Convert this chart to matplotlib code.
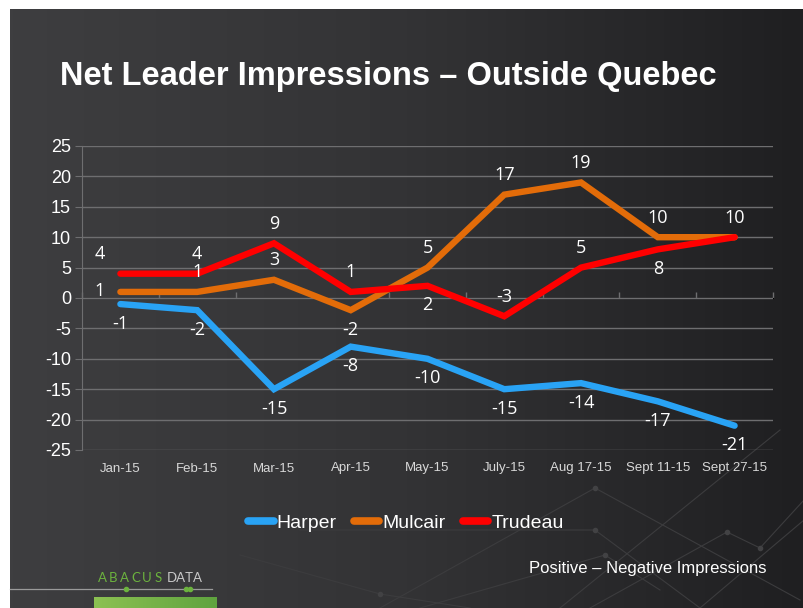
import numpy as np
import matplotlib
matplotlib.use("Agg")
import matplotlib.pyplot as plt
from matplotlib.lines import Line2D

plt.rcParams["axes.unicode_minus"] = False

# data
periods = ["Jan-15", "Feb-15", "Mar-15", "Apr-15", "May-15", "July-15",
           "Aug 17-15", "Sept 11-15", "Sept 27-15"]
harper = [-1, -2, -15, -8, -10, -15, -14, -17, -21]
mulcair = [1, 1, 3, -2, 5, 17, 19, 10, 10]
trudeau = [4, 4, 9, 1, 2, -3, 5, 8, 10]

# where each value label sits relative to its point
harper_pos = ["below"] * 9
mulcair_pos = ["left", "above", "above", "below", "above", "above", "above", "above", "above"]
trudeau_pos = ["upleft", "above", "above", "above", "below", "above", "above", "below", None]

BLUE = "#29a3f5"
ORANGE = "#e36c09"
RED = "#ff0000"
GRID = "#6e6e70"
SANS = ["Liberation Sans", "DejaVu Sans"]

W, H = 804, 608
fig = plt.figure(figsize=(W / 100, H / 100), dpi=100, facecolor="white")

# background panel (pixel coordinates)
bg = fig.add_axes([0, 0, 1, 1], zorder=-10)
bg.set_xlim(0, W)
bg.set_ylim(H, 0)
bg.axis("off")
grad = np.linspace(0, 1, 256)[None, :]
cmap = matplotlib.colors.LinearSegmentedColormap.from_list("bg", ["#3e3e40", "#333335", "#1f1f21"])
bg.imshow(grad, cmap=cmap, extent=(10, W, H, 9), aspect="auto")

# faint network decoration
deco = [
    [(380, 608), (595, 488), (800, 600)],
    [(300, 530), (595, 530), (700, 608)],
    [(420, 608), (605, 555), (660, 590)],
    [(560, 608), (780, 430)],
    [(700, 608), (804, 520)],
    [(590, 608), (727, 532), (760, 548), (804, 500)],
    [(240, 555), (380, 594), (470, 608)],
]
for seg in deco:
    xs, ys = zip(*seg)
    bg.plot(xs, ys, color="#3c3c3e", lw=0.8, zorder=1)
    bg.plot(xs[1:-1], ys[1:-1], "o", color="#424244", ms=3, zorder=1)

# logo
for i, ch in enumerate("ABACUS"):
    bg.text(102 + i * 11.2, 578, ch, color="#6cb33e", fontsize=9.5,
            family=["Lato", "DejaVu Sans"], ha="center", va="center")
bg.text(167, 578, "DATA", color="#c8c8c8", fontsize=9.5, family=["Lato", "DejaVu Sans"],
        ha="left", va="center")
bg.plot([10, 212], [589, 589], color="#9a9a9a", lw=0.9)
bg.plot([126, 186, 190], [589, 589, 589], "o", color="#6cb33e", ms=3)
ggrad = matplotlib.colors.LinearSegmentedColormap.from_list("g", ["#8cc152", "#5fa33f"])
bg.imshow(grad, cmap=ggrad, extent=(94, 217, H, 597), aspect="auto", zorder=2)

# title
fig.text(60 / W, 1 - 76 / H, "Net Leader Impressions \u2013 Outside Quebec", color="white",
         fontsize=23.5, fontweight="bold", family=SANS, ha="left", va="center")

# chart
ax = fig.add_axes([82 / W, 1 - 450 / H, (773 - 82) / W, 304 / H])
ax.set_facecolor("none")
x = np.arange(len(periods))
ax.set_xlim(-0.5, len(periods) - 0.5)
ax.set_ylim(-25, 25)
ax.set_yticks(range(-25, 26, 5))
ax.grid(axis="y", color=GRID, lw=1)
ax.set_axisbelow(True)
for s in ["top", "right", "bottom"]:
    ax.spines[s].set_visible(False)
ax.spines["left"].set_color(GRID)
ax.tick_params(axis="y", colors=GRID, length=5, labelcolor="white", labelsize=13, pad=3)
for lbl in ax.get_yticklabels():
    lbl.set_family(SANS)
ax.set_xticks(x)
ax.set_xticklabels(periods, color="#d8d8d8", fontsize=9.5, family=SANS)
ax.tick_params(axis="x", length=0, pad=9)

# zero axis with category boundary ticks
zero = ax.secondary_xaxis(0.5)
zero.set_xticks(np.arange(-0.5, len(periods), 1))
zero.set_xticklabels([])
zero.tick_params(length=4, color=GRID, width=1)
zero.spines["bottom"].set_color(GRID)

series = [("Harper", harper, BLUE, harper_pos),
          ("Mulcair", mulcair, ORANGE, mulcair_pos),
          ("Trudeau", trudeau, RED, trudeau_pos)]
offsets = {"above": (0, 14), "below": (0, -14), "left": (-15, 1), "upleft": (-15, 14)}
for name, vals, col, pos in series:
    ax.plot(x, vals, color=col, lw=4.6, solid_capstyle="round", solid_joinstyle="miter", zorder=3)
    for xi, v, p in zip(x, vals, pos):
        if p is None:
            continue
        ax.annotate(str(v), (xi, v), xytext=offsets[p], textcoords="offset points",
                    ha="center", va="center", color="white", fontsize=13,
                    family=["Open Sans", "DejaVu Sans"], zorder=4)

handles = [Line2D([], [], color=c, lw=5.5, solid_capstyle="round") for _, _, c, _ in series]
fig.legend(handles, [s[0] for s in series], loc="center", bbox_to_anchor=(406 / W, 1 - 523 / H),
           ncol=3, frameon=False, handlelength=1.3, handletextpad=0.15, columnspacing=0.9,
           labelcolor="white", prop={"family": SANS, "size": 14})

fig.text(767 / W, 1 - 568 / H, "Positive \u2013 Negative Impressions", color="white",
         fontsize=12, family=SANS, ha="right", va="center")

fig.savefig("out.png", dpi=100, facecolor="white")
